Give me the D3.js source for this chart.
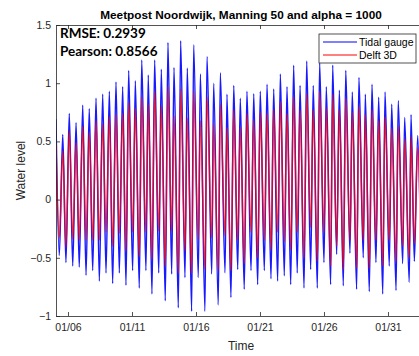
<!DOCTYPE html>
<html><head><meta charset="utf-8">
<script src="https://cdn.jsdelivr.net/npm/d3@7"></script>
<style>body{margin:0;background:#fff}svg{display:block}</style>
</head><body><div id="chart"></div>
<script>
// Time of each extreme, as day-of-January (fractional)
const highTimes = [5.06,5.59,6.10,6.63,7.15,7.66,8.19,8.71,9.23,9.75,10.27,10.74,11.26,11.76,12.27,12.77,13.29,13.81,14.28,14.80,15.32,15.82,16.34,16.86,17.38,17.90,18.42,18.95,19.46,19.98,20.51,21.02,21.55,22.07,22.59,23.11,23.63,24.13,24.65,25.16,25.66,26.18,26.68,27.20,27.70,28.21,28.73,29.23,29.75,30.27,30.77,31.29,31.80,32.30,32.80,33.32];
const lowTimes = [5.32,5.84,6.37,6.88,7.41,7.93,8.45,8.97,9.49,10.01,10.53,11.05,11.57,12.09,12.56,13.09,13.60,14.10,14.62,15.14,15.66,16.18,16.70,17.23,17.74,18.27,18.73,19.26,19.77,20.30,20.82,21.34,21.86,22.38,22.90,23.40,23.91,24.44,24.96,25.48,26.00,26.52,26.99,27.51,28.03,28.55,29.07,29.54,30.06,30.59,31.10,31.63,32.15,32.66,33.06,33.58];
// Tidal gauge
const gaugeHighs = [0.69,0.56,0.74,0.66,0.81,0.78,0.87,0.905,0.93,1.01,0.97,1.11,1.02,1.20,1.07,1.20,1.12,1.35,1.135,1.365,1.13,1.33,1.08,1.23,1.00,1.09,0.905,0.98,0.87,0.93,0.91,0.93,0.99,0.95,1.08,0.97,1.155,0.98,1.19,0.98,1.175,0.97,1.155,0.94,1.11,0.925,1.05,0.905,0.99,0.88,0.925,0.82,0.85,0.705,0.73,0.55];
const gaugeLows = [-0.48,-0.54,-0.57,-0.58,-0.65,-0.61,-0.70,-0.63,-0.72,-0.63,-0.735,-0.61,-0.76,-0.61,-0.81,-0.63,-0.87,-0.64,-0.93,-0.67,-0.96,-0.67,-0.96,-0.64,-0.905,-0.63,-0.84,-0.60,-0.77,-0.61,-0.73,-0.61,-0.68,-0.70,-0.655,-0.73,-0.63,-0.76,-0.60,-0.76,-0.54,-0.73,-0.47,-0.74,-0.46,-0.77,-0.50,-0.79,-0.54,-0.81,-0.57,-0.78,-0.55,-0.71,-0.53,-0.70];
// Delft 3D
const delftHighs = [0.48,0.42,0.59,0.49,0.63,0.57,0.68,0.65,0.71,0.73,0.74,0.83,0.78,0.88,0.82,0.93,0.80,0.97,0.72,0.95,0.70,0.93,0.68,0.88,0.65,0.82,0.62,0.77,0.62,0.74,0.68,0.75,0.74,0.77,0.84,0.74,0.88,0.77,0.91,0.77,0.925,0.79,0.905,0.77,0.87,0.75,0.80,0.73,0.77,0.68,0.71,0.61,0.63,0.52,0.54,0.45];
const delftLows = [-0.33,-0.41,-0.34,-0.35,-0.35,-0.35,-0.35,-0.28,-0.40,-0.29,-0.44,-0.28,-0.49,-0.28,-0.51,-0.27,-0.57,-0.27,-0.63,-0.44,-0.63,-0.34,-0.60,-0.33,-0.61,-0.31,-0.61,-0.35,-0.55,-0.28,-0.50,-0.35,-0.43,-0.28,-0.36,-0.43,-0.28,-0.50,-0.24,-0.53,-0.28,-0.57,-0.40,-0.60,-0.35,-0.59,-0.35,-0.59,-0.35,-0.57,-0.35,-0.53,-0.40,-0.50,-0.38,-0.45];
const timeDomain = [5.0625, 33.97];
const xTickDays = [6, 11, 16, 21, 26, 31];
const yTicks = [-1, -0.5, 0, 0.5, 1, 1.5];
const yDomain = [-1, 1.5];
const seriesNames = ["Tidal gauge", "Delft 3D"];
const seriesColors = ["#0000ff", "#ff0000"];
const titleText = "Meetpost Noordwijk, Manning 50 and alpha = 1000";
const statsText = ["RMSE: 0.2939", "Pearson: 0.8566"];

const toDate = d => new Date(Date.UTC(2020, 0, 1) + (d - 1) * 86400000);

function buildSeries(highs, lows) {
  const pts = [];
  highs.forEach((v, i) => pts.push({t: toDate(highTimes[i]), v}));
  lows.forEach((v, i) => pts.push({t: toDate(lowTimes[i]), v}));
  return pts.sort((a, b) => a.t - b.t);
}
const series = [buildSeries(gaugeHighs, gaugeLows), buildSeries(delftHighs, delftLows)];

const W = 419, H = 356;
const m = {left: 56, right: 426, top: 25, bottom: 316};
const svg = d3.select("#chart").append("svg").attr("width", W).attr("height", H);
const x = d3.scaleUtc().domain(timeDomain.map(toDate)).range([m.left, m.right]);
const y = d3.scaleLinear().domain(yDomain).range([m.bottom, m.top]);

svg.append("defs").append("clipPath").attr("id", "clip")
  .append("rect").attr("x", m.left).attr("y", m.top).attr("width", m.right - m.left).attr("height", m.bottom - m.top);

const line = d3.line().x(d => x(d.t)).y(d => y(d.v)).curve(d3.curveMonotoneX);
const g = svg.append("g").attr("clip-path", "url(#clip)");
series.forEach((s, i) => {
  g.append("path").datum(s).attr("d", line).attr("fill", "none")
    .attr("stroke", seriesColors[i]).attr("stroke-width", 1.5).attr("stroke-opacity", i === 1 ? 0.75 : 0.9);
});

const axisColor = "#262626";
const font = "Liberation Sans, Arial, sans-serif";
// axes
const xAxis = d3.axisBottom(x).tickValues(xTickDays.map(toDate)).tickFormat(d3.utcFormat("%m/%d")).tickSizeInner(-4).tickSizeOuter(0).tickPadding(8);
const gx = svg.append("g").attr("transform", `translate(0,${m.bottom})`).call(xAxis);
const xTop = d3.axisTop(x).tickValues(xTickDays.map(toDate)).tickFormat("").tickSizeInner(-4).tickSizeOuter(0);
const gxt = svg.append("g").attr("transform", `translate(0,${m.top})`).call(xTop);
const yAxis = d3.axisLeft(y).tickValues(yTicks).tickFormat(d3.format("")).tickSizeInner(-4).tickSizeOuter(0).tickPadding(5);
const gy = svg.append("g").attr("transform", `translate(${m.left},0)`).call(yAxis);
[gx, gxt, gy].forEach(a => {
  a.selectAll("path,line").attr("stroke", axisColor).attr("stroke-width", 0.8);
  a.selectAll("text").attr("fill", axisColor).style("font-family", font).style("font-size", "10.5px");
});

svg.append("text").attr("x", (m.left + m.right) / 2).attr("y", 19).attr("text-anchor", "middle")
  .style("font-family", font).style("font-size", "11.8px").style("font-weight", "bold").attr("fill", "#000").text(titleText);
svg.append("text").attr("x", (m.left + m.right) / 2).attr("y", 350).attr("text-anchor", "middle")
  .style("font-family", font).style("font-size", "12px").attr("fill", axisColor).text("Time");
svg.append("text").attr("transform", `translate(25,${(m.top + m.bottom) / 2}) rotate(-90)`).attr("text-anchor", "middle")
  .style("font-family", font).style("font-size", "12px").attr("fill", axisColor).text("Water level");

statsText.forEach((t, i) => {
  svg.append("text").attr("x", 60).attr("y", 38 + i * 18)
    .style("font-family", "Lato, 'Open Sans', sans-serif").style("font-size", "13.5px").style("font-weight", "bold").attr("fill", "#000").text(t);
});

// legend
const lg = svg.append("g");
lg.append("rect").attr("x", 319).attr("y", 34).attr("width", 97).attr("height", 29).attr("fill", "#fff").attr("stroke", axisColor).attr("stroke-width", 0.8);
seriesNames.forEach((n, i) => {
  const yy = 42 + i * 13;
  lg.append("line").attr("x1", 323).attr("x2", 357).attr("y1", yy).attr("y2", yy).attr("stroke", seriesColors[i]).attr("stroke-width", 1);
  lg.append("text").attr("x", 359).attr("y", yy + 3.5).style("font-family", font).style("font-size", "10.5px").attr("fill", "#000").text(n);
});
</script></body></html>
